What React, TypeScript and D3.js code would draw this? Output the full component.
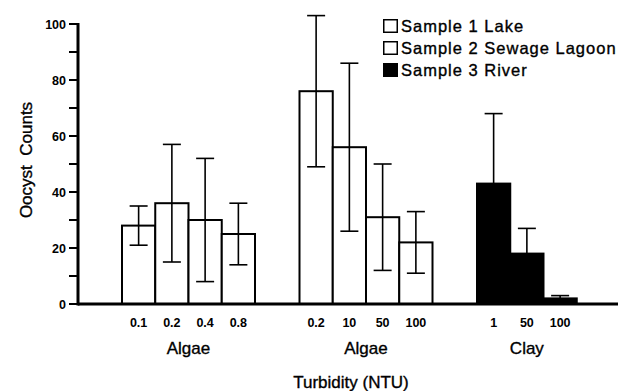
import React from 'react'
import * as d3 from 'd3'

// data
const groups = ['Algae', 'Algae', 'Clay']
const sampleOfGroup = [0, 1, 2]
const tickLabels = [
  ['0.1', '0.2', '0.4', '0.8'],
  ['0.2', '10', '50', '100'],
  ['1', '50', '100'],
]
const counts = [
  [28, 36, 30, 25],
  [76, 56, 31, 22],
  [43, 18, 2],
]
const errLow = [
  [21, 15, 8, 14],
  [49, 26, 12, 11],
  [43, 18, 2],
]
const errHigh = [
  [35, 57, 52, 36],
  [103, 86, 50, 33],
  [68, 27, 3],
]
const legendLabels = ['Sample 1 Lake', 'Sample 2 Sewage Lagoon', 'Sample 3 River']
const legendFill = ['#fff', '#fff', '#000']
const yTicks = [0, 20, 40, 60, 80, 100]
const yMinor = [10, 30, 50, 70, 90]

const W = 620
const H = 391
const font = '"Liberation Sans", Arial, Helvetica, sans-serif'

export default function App() {
  const y = d3.scaleLinear().domain([0, 100]).range([304, 24])
  const groupX = d3.scaleLinear().domain([0, 2]).range([122, 477])
  const barX = d3.scaleBand<number>().domain([0, 1, 2, 3]).range([0, 133]).paddingInner(0)
  const bw = barX.bandwidth()
  const axisX = 78
  const cap = 9
  // the scanned lettering is a bit heavier than plain regular
  const heavy = { stroke: '#000', strokeWidth: 0.35 }

  return (
    <svg width={W} height={H} style={{ position: 'absolute', left: 0, top: 0, background: '#fff' }}>
      {/* bars */}
      {counts.map((vals, g) =>
        vals.map((v, i) => {
          const x0 = groupX(g) + (barX(i) as number)
          const cx = x0 + bw / 2
          const black = sampleOfGroup[g] === 2
          return (
            <g key={g + '-' + i}>
              <rect x={x0} y={y(v)} width={bw} height={y(0) - y(v)}
                fill={black ? '#000' : '#fff'} stroke="#000" strokeWidth={2} />
              <line x1={cx} x2={cx} y1={y(errLow[g][i])} y2={y(errHigh[g][i])} stroke="#000" strokeWidth={1.6} />
              <line x1={cx - cap} x2={cx + cap} y1={y(errHigh[g][i])} y2={y(errHigh[g][i])} stroke="#000" strokeWidth={1.6} />
              {!black && (
                <line x1={cx - cap} x2={cx + cap} y1={y(errLow[g][i])} y2={y(errLow[g][i])} stroke="#000" strokeWidth={1.6} />
              )}
              <text x={cx} y={327} textAnchor="middle" fontFamily={font} fontSize={12.5} fontWeight="bold">
                {tickLabels[g][i]}
              </text>
            </g>
          )
        })
      )}

      {/* group labels */}
      {groups.map((name, g) => (
        <text key={g} x={groupX(g) + (bw * counts[g].length) / 2} y={354} textAnchor="middle"
          fontFamily={font} fontSize={17} {...heavy}>
          {name}
        </text>
      ))}

      {/* axes */}
      <line x1={axisX} x2={618} y1={y(0)} y2={y(0)} stroke="#000" strokeWidth={3} />
      <line x1={axisX} x2={axisX} y1={y(0) + 1.5} y2={y(100) - 1} stroke="#000" strokeWidth={3} />
      {yTicks.concat(yMinor).map(t => (
        <line key={t} x1={69} x2={axisX} y1={y(t)} y2={y(t)} stroke="#000" strokeWidth={2} />
      ))}
      {yTicks.map(t => (
        <text key={t} x={66} y={y(t) + 4.5} textAnchor="end" fontFamily={font} fontSize={12.5} fontWeight="bold">
          {t}
        </text>
      ))}

      <text transform="translate(32,160) rotate(-90)" textAnchor="middle" fontFamily={font} fontSize={17}
        style={{ whiteSpace: 'pre' }} {...heavy}>
        {'Oocyst  Counts'}
      </text>
      <text x={351} y={388} textAnchor="middle" fontFamily={font} fontSize={17} {...heavy}>
        Turbidity (NTU)
      </text>

      {/* legend */}
      {legendLabels.map((l, i) => (
        <g key={l} transform={`translate(383,${19 + i * 22})`}>
          <rect x={0.75} y={0.75} width={13.5} height={12.5} fill={legendFill[i]} stroke="#000" strokeWidth={1.5} />
          <text x={18} y={13} fontFamily={font} fontSize={16.5} letterSpacing={1} {...heavy}>{l}</text>
        </g>
      ))}
    </svg>
  )
}
